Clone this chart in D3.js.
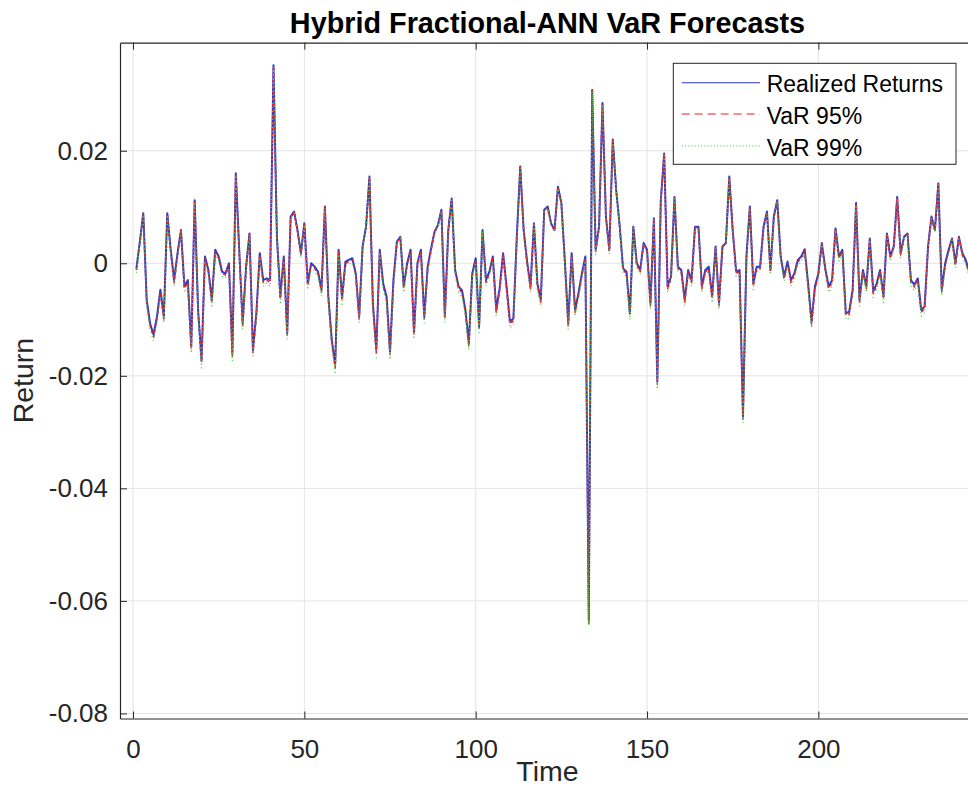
<!DOCTYPE html>
<html>
<head>
<meta charset="utf-8">
<script src="https://cdn.jsdelivr.net/npm/d3@7"></script>
<style>
  html, body { margin: 0; padding: 0; background: #fff; }
  svg { display: block; font-family: "Liberation Sans", Arial, Helvetica, sans-serif; }
</style>
</head>
<body>
<svg id="chart" width="968" height="797"></svg>
<script>
// ---------- data ----------
const chartTitle = "Hybrid Fractional-ANN VaR Forecasts";
const xLabel = "Time";
const yLabel = "Return";
const seriesNames = ["Realized Returns", "VaR 95%", "VaR 99%"];
const xTicks = [0, 50, 100, 150, 200];
const yTicks = [0.02, 0, -0.02, -0.04, -0.06, -0.08];
const yTickLabels = ["0.02", "0", "-0.02", "-0.04", "-0.06", "-0.08"];

const realizedReturns = [
-0.0009,0.0038,0.0089,-0.0065,-0.0107,-0.0127,-0.0095,-0.0047,-0.0095,0.0089,
0.0024,-0.0030,0.0018,0.0059,-0.0041,-0.0030,-0.0148,0.0112,-0.0083,-0.0172,
0.0012,-0.0012,-0.0065,0.0024,0.0012,-0.0015,-0.0018,0.0000,-0.0160,0.0160,
0.0024,-0.0107,-0.0006,0.0053,-0.0154,-0.0089,0.0018,-0.0030,-0.0027,-0.0030,
0.0352,0.0047,-0.0059,0.0012,-0.0124,0.0083,0.0092,0.0059,0.0018,0.0071,
-0.0036,0.0000,-0.0006,-0.0015,-0.0047,0.0101,-0.0059,-0.0136,-0.0180,0.0024,
-0.0062,0.0003,0.0006,0.0009,-0.0018,-0.0095,0.0030,0.0065,0.0154,-0.0071,
-0.0154,0.0024,-0.0036,-0.0059,-0.0157,-0.0030,0.0038,0.0047,-0.0041,0.0000,
0.0024,-0.0124,0.0000,0.0024,-0.0095,-0.0006,0.0027,0.0056,0.0068,0.0095,
-0.0095,0.0059,0.0115,-0.0012,-0.0041,-0.0048,-0.0083,-0.0142,-0.0018,0.0009,
-0.0112,0.0059,-0.0030,-0.0015,0.0012,-0.0083,-0.0044,0.0018,-0.0041,-0.0104,
-0.0098,0.0047,0.0172,0.0059,0.0003,-0.0041,0.0071,-0.0036,-0.0065,0.0095,
0.0101,0.0071,0.0059,0.0136,0.0107,0.0006,-0.0107,0.0018,-0.0083,-0.0053,
-0.0018,0.0012,-0.0635,0.0308,0.0024,0.0065,0.0285,0.0083,0.0024,0.0220,
0.0130,0.0068,-0.0009,-0.0015,-0.0089,0.0065,0.0000,-0.0012,0.0036,0.0024,
-0.0071,0.0080,-0.0210,0.0110,0.0195,-0.0041,-0.0024,0.0118,-0.0006,-0.0012,
-0.0065,-0.0012,-0.0030,0.0065,0.0065,-0.0041,-0.0012,-0.0006,-0.0059,0.0030,
-0.0071,0.0030,0.0036,0.0154,0.0059,-0.0015,-0.0012,-0.0272,0.0012,0.0101,
-0.0036,-0.0006,-0.0006,0.0065,0.0092,-0.0012,0.0083,0.0112,0.0012,-0.0024,
0.0003,-0.0030,-0.0018,0.0006,0.0012,0.0025,-0.0036,-0.0104,-0.0041,-0.0018,
0.0036,-0.0009,-0.0041,-0.0030,0.0062,0.0012,0.0024,-0.0089,-0.0086,-0.0047,
0.0107,-0.0065,-0.0012,-0.0041,0.0044,-0.0050,-0.0036,-0.0012,-0.0059,0.0053,
0.0012,0.0030,0.0118,0.0018,0.0047,0.0053,-0.0030,-0.0038,-0.0027,-0.0083,
-0.0077,0.0030,0.0083,0.0059,0.0142,-0.0047,0.0000,0.0024,0.0044,0.0000,
0.0047,0.0018,0.0006,-0.0015
];

const var95 = [
-0.0012,0.0037,0.0088,-0.0069,-0.0111,-0.0131,-0.0099,-0.0051,-0.0099,0.0088,
0.0021,-0.0034,0.0015,0.0058,-0.0045,-0.0034,-0.0152,0.0111,-0.0087,-0.0177,
0.0009,-0.0015,-0.0069,0.0021,0.0009,-0.0018,-0.0021,-0.0003,-0.0165,0.0159,
0.0021,-0.0111,-0.0009,0.0052,-0.0159,-0.0093,0.0015,-0.0034,-0.0030,-0.0034,
0.0351,0.0046,-0.0063,0.0009,-0.0128,0.0082,0.0091,0.0058,0.0015,0.0070,
-0.0040,-0.0003,-0.0009,-0.0018,-0.0051,0.0100,-0.0063,-0.0140,-0.0185,0.0021,
-0.0066,0.0000,0.0003,0.0006,-0.0021,-0.0099,0.0029,0.0064,0.0153,-0.0075,
-0.0159,0.0021,-0.0040,-0.0063,-0.0162,-0.0034,0.0037,0.0046,-0.0045,-0.0003,
0.0021,-0.0128,-0.0003,0.0021,-0.0099,-0.0009,0.0024,0.0055,0.0067,0.0094,
-0.0099,0.0058,0.0114,-0.0015,-0.0045,-0.0052,-0.0087,-0.0146,-0.0021,0.0006,
-0.0116,0.0058,-0.0034,-0.0018,0.0009,-0.0087,-0.0048,0.0015,-0.0045,-0.0108,
-0.0102,0.0046,0.0171,0.0058,0.0000,-0.0045,0.0070,-0.0040,-0.0069,0.0094,
0.0100,0.0070,0.0058,0.0135,0.0106,0.0003,-0.0111,0.0015,-0.0087,-0.0057,
-0.0021,0.0009,-0.0640,0.0307,0.0021,0.0064,0.0284,0.0082,0.0021,0.0219,
0.0129,0.0067,-0.0012,-0.0018,-0.0093,0.0064,-0.0003,-0.0015,0.0035,0.0021,
-0.0075,0.0079,-0.0215,0.0109,0.0194,-0.0045,-0.0027,0.0117,-0.0009,-0.0015,
-0.0069,-0.0015,-0.0034,0.0064,0.0064,-0.0045,-0.0015,-0.0009,-0.0063,0.0029,
-0.0075,0.0029,0.0035,0.0153,0.0058,-0.0018,-0.0015,-0.0277,0.0009,0.0100,
-0.0040,-0.0009,-0.0009,0.0064,0.0091,-0.0015,0.0082,0.0111,0.0009,-0.0027,
0.0000,-0.0034,-0.0021,0.0003,0.0009,0.0022,-0.0040,-0.0108,-0.0045,-0.0021,
0.0035,-0.0012,-0.0045,-0.0034,0.0061,0.0009,0.0021,-0.0093,-0.0090,-0.0051,
0.0106,-0.0069,-0.0015,-0.0045,0.0043,-0.0054,-0.0040,-0.0015,-0.0063,0.0052,
0.0009,0.0029,0.0117,0.0015,0.0046,0.0052,-0.0034,-0.0042,-0.0030,-0.0087,
-0.0081,0.0029,0.0082,0.0058,0.0141,-0.0051,-0.0003,0.0021,0.0043,-0.0003,
0.0046,0.0015,0.0003,-0.0018
];

const var99 = [
-0.0017,0.0035,0.0086,-0.0076,-0.0118,-0.0138,-0.0106,-0.0058,-0.0106,0.0086,
0.0016,-0.0041,0.0010,0.0056,-0.0052,-0.0041,-0.0159,0.0109,-0.0094,-0.0186,
0.0004,-0.0020,-0.0076,0.0016,0.0004,-0.0023,-0.0026,-0.0008,-0.0174,0.0157,
0.0016,-0.0118,-0.0014,0.0050,-0.0168,-0.0100,0.0010,-0.0041,-0.0035,-0.0041,
0.0349,0.0044,-0.0070,0.0004,-0.0135,0.0080,0.0089,0.0056,0.0010,0.0068,
-0.0047,-0.0008,-0.0014,-0.0023,-0.0058,0.0098,-0.0070,-0.0147,-0.0194,0.0016,
-0.0073,-0.0005,-0.0002,0.0001,-0.0026,-0.0106,0.0027,0.0062,0.0151,-0.0082,
-0.0168,0.0016,-0.0047,-0.0070,-0.0171,-0.0041,0.0035,0.0044,-0.0052,-0.0008,
0.0016,-0.0135,-0.0008,0.0016,-0.0106,-0.0014,0.0019,0.0053,0.0065,0.0092,
-0.0106,0.0056,0.0112,-0.0020,-0.0052,-0.0059,-0.0094,-0.0153,-0.0026,0.0001,
-0.0123,0.0056,-0.0041,-0.0023,0.0004,-0.0094,-0.0055,0.0010,-0.0052,-0.0115,
-0.0109,0.0044,0.0169,0.0056,-0.0005,-0.0052,0.0068,-0.0047,-0.0076,0.0092,
0.0098,0.0068,0.0056,0.0133,0.0104,-0.0002,-0.0118,0.0010,-0.0094,-0.0064,
-0.0026,0.0004,-0.0644,0.0305,0.0016,0.0062,0.0282,0.0080,0.0016,0.0217,
0.0127,0.0065,-0.0017,-0.0023,-0.0100,0.0062,-0.0008,-0.0020,0.0033,0.0016,
-0.0082,0.0077,-0.0224,0.0107,0.0192,-0.0052,-0.0032,0.0115,-0.0014,-0.0020,
-0.0076,-0.0020,-0.0041,0.0062,0.0062,-0.0052,-0.0020,-0.0014,-0.0070,0.0027,
-0.0082,0.0027,0.0033,0.0151,0.0056,-0.0023,-0.0020,-0.0286,0.0004,0.0098,
-0.0047,-0.0014,-0.0014,0.0062,0.0089,-0.0020,0.0080,0.0109,0.0004,-0.0032,
-0.0005,-0.0041,-0.0026,-0.0002,0.0004,0.0017,-0.0047,-0.0115,-0.0052,-0.0026,
0.0033,-0.0017,-0.0052,-0.0041,0.0059,0.0004,0.0016,-0.0100,-0.0097,-0.0058,
0.0104,-0.0076,-0.0020,-0.0052,0.0041,-0.0061,-0.0047,-0.0020,-0.0070,0.0050,
0.0004,0.0027,0.0115,0.0010,0.0044,0.0050,-0.0041,-0.0049,-0.0035,-0.0094,
-0.0088,0.0027,0.0080,0.0056,0.0139,-0.0058,-0.0008,0.0016,0.0041,-0.0008,
0.0044,0.0010,-0.0002,-0.0023
];

const timeIndex = d3.range(1, realizedReturns.length + 1);

// ---------- layout ----------
const svg = d3.select("#chart");
const L = 120, R = 975, T = 42.7, B = 718.5;
const axisColor = "#262626";
const gridColor = "#e3e3e3";

const x = d3.scaleLinear().domain([-3.79, 245.7]).range([L, R]);
const y = d3.scaleLinear().domain([-0.0809, 0.0392]).range([B, T]);

svg.append("rect").attr("width", 968).attr("height", 797).attr("fill", "#fff");

// grid
const grid = svg.append("g");
grid.selectAll("line.gx").data(xTicks).join("line")
  .attr("x1", d => x(d)).attr("x2", d => x(d))
  .attr("y1", T).attr("y2", B)
  .attr("stroke", gridColor).attr("stroke-width", 1);
grid.selectAll("line.gy").data(yTicks).join("line")
  .attr("x1", L).attr("x2", R)
  .attr("y1", d => y(d)).attr("y2", d => y(d))
  .attr("stroke", gridColor).attr("stroke-width", 1);

// clip
svg.append("clipPath").attr("id", "clip")
  .append("rect").attr("x", L).attr("y", T).attr("width", R - L).attr("height", B - T);

const line = d3.line().x((d, i) => x(timeIndex[i])).y(d => y(d));
const plot = svg.append("g").attr("clip-path", "url(#clip)");

const styles = [
  { data: realizedReturns, color: "#2b3bcc", dash: null, w: 2.0, legendDash: null },
  { data: var95, color: "#e82020", dash: "3,3", w: 1.6, legendDash: "8,5" },
  { data: var99, color: "#55cc55", dash: "1,3", w: 1.3, legendDash: "1.2,2" }
];
styles.forEach(s => {
  plot.append("path").datum(s.data)
    .attr("d", line)
    .attr("fill", "none")
    .attr("stroke", s.color)
    .attr("stroke-width", s.w)
    .attr("stroke-linejoin", "round")
    .attr("stroke-dasharray", s.dash);
});

// axes
const fmt = d => yTickLabels[yTicks.indexOf(d)];
const xAxis = svg.append("g").attr("transform", `translate(0,${B})`)
  .call(d3.axisBottom(x).tickValues(xTicks).tickSizeInner(-7).tickSizeOuter(0).tickPadding(21).tickFormat(d3.format("d")));
const xAxisTop = svg.append("g").attr("transform", `translate(0,${T})`)
  .call(d3.axisTop(x).tickValues(xTicks).tickSizeInner(-7).tickSizeOuter(0).tickFormat(""));
const yAxis = svg.append("g").attr("transform", `translate(${L},0)`)
  .call(d3.axisLeft(y).tickValues(yTicks).tickSizeInner(-7).tickSizeOuter(0).tickPadding(12).tickFormat(fmt));
const yAxisRight = svg.append("g").attr("transform", `translate(${R},0)`)
  .call(d3.axisRight(y).tickValues(yTicks).tickSizeInner(-7).tickSizeOuter(0).tickFormat(""));

[xAxis, xAxisTop, yAxis, yAxisRight].forEach(g => {
  g.select(".domain").attr("stroke", axisColor).attr("stroke-width", 1.2);
  g.selectAll(".tick line").attr("stroke", axisColor).attr("stroke-width", 1);
  g.selectAll(".tick text").attr("fill", axisColor)
    .style("font-size", "26px").style("font-family", "'Liberation Sans', Arial, sans-serif");
});

// title & labels
svg.append("text").attr("x", (L + R) / 2).attr("y", 33.3)
  .attr("text-anchor", "middle").attr("font-weight", "bold")
  .attr("font-size", "28.8px").attr("fill", "#000").text(chartTitle);

svg.append("text").attr("x", (L + R) / 2).attr("y", 781)
  .attr("text-anchor", "middle").attr("font-size", "28.5px").attr("fill", axisColor).text(xLabel);

svg.append("text").attr("transform", `translate(33.3,${(T + B) / 2}) rotate(-90)`)
  .attr("text-anchor", "middle").attr("font-size", "28.5px").attr("fill", axisColor).text(yLabel);

// legend
const lg = svg.append("g");
lg.append("rect").attr("x", 673.3).attr("y", 63.3).attr("width", 282.7).attr("height", 101)
  .attr("fill", "#fff").attr("stroke", axisColor).attr("stroke-width", 1);
const rowLineY = [82.7, 114, 146];
const rowTextY = [91.7, 124, 156];
seriesNames.forEach((name, i) => {
  lg.append("line").attr("x1", 681.7).attr("x2", 760)
    .attr("y1", rowLineY[i]).attr("y2", rowLineY[i])
    .attr("stroke", styles[i].color).attr("stroke-width", 1.1)
    .attr("stroke-dasharray", styles[i].legendDash);
  lg.append("text").attr("x", 766.7).attr("y", rowTextY[i])
    .attr("font-size", "23px").attr("fill", "#000").text(name);
});
</script>
</body>
</html>
